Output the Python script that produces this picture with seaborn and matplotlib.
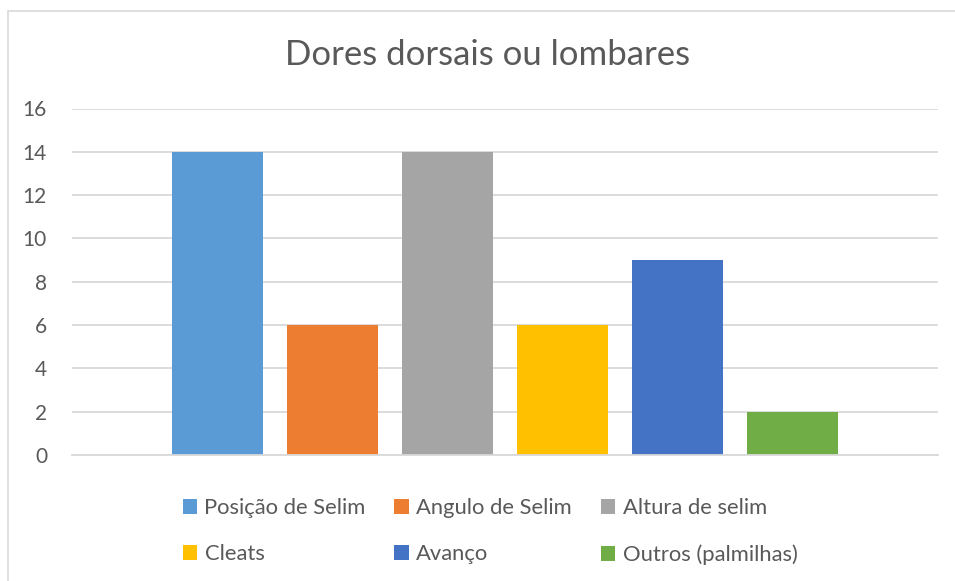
import matplotlib
matplotlib.use("Agg")
import matplotlib.pyplot as plt
import seaborn as sns
import pandas as pd
from matplotlib.patches import Patch, Rectangle

# data
categorias = ["Posição de Selim", "Angulo de Selim", "Altura de selim",
              "Cleats", "Avanço", "Outros (palmilhas)"]
valores = [14, 6, 14, 6, 9, 2]
cores = ["#5B9BD5", "#ED7D31", "#A5A5A5", "#FFC000", "#4472C4", "#70AD47"]
yticks = [0, 2, 4, 6, 8, 10, 12, 14, 16]
titulo = "Dores dorsais ou lombares"

df = pd.DataFrame({"Categoria": categorias, "Valor": valores})

sns.set_style("white")
plt.rcParams['font.family'] = ['Lato', 'DejaVu Sans']
texto = "#595959"

fig = plt.figure(figsize=(9.55, 5.81), dpi=100)
ax = fig.add_axes([72 / 955, 1 - 455 / 581, (938 - 72) / 955, (455 - 108.5) / 581])

sns.barplot(data=df, x="Categoria", y="Valor", hue="Categoria",
            palette=cores, width=0.79, legend=False, ax=ax, saturation=1,
            linewidth=0)

ax.set_xlim(-1.26, 6.26)
ax.set_ylim(0, 16)
ax.set_yticks(yticks)
ax.set_xticks([])
ax.set_xlabel("")
ax.set_ylabel("")
ax.tick_params(axis="y", length=0, labelsize=15, labelcolor=texto, pad=18)
ax.yaxis.grid(True, color="#d9d9d9", linewidth=1.3)
ax.set_axisbelow(True)
for s in ["left", "right", "top"]:
    ax.spines[s].set_visible(False)
ax.spines["bottom"].set_color("#d9d9d9")
ax.spines["bottom"].set_linewidth(1.3)

fig.text(488 / 955, 1 - 55 / 581, titulo, ha="center", va="center",
         fontsize=25, color=texto)

# chart border (Excel frame)
fig.patches.append(Rectangle((7.5 / 955, -0.1), 1.2, 1 - 10.5 / 581 + 0.1,
                             transform=fig.transFigure, fill=False,
                             edgecolor="#d9d9d9", linewidth=1.2))

# legend laid out row by row (matplotlib fills column-wise)
ordem = [0, 3, 1, 4, 2, 5]
handles = [Patch(facecolor=cores[i], edgecolor="none") for i in ordem]
rotulos = [categorias[i] for i in ordem]
fig.legend(handles, rotulos, ncol=3, frameon=False,
           loc="center", bbox_to_anchor=(490 / 955, 1 - 531.5 / 581),
           fontsize=15.8, labelcolor=texto, handlelength=0.65, handleheight=0.65,
           handletextpad=0.35, columnspacing=1.3, labelspacing=1.2)

fig.savefig("out.png", dpi=100)
